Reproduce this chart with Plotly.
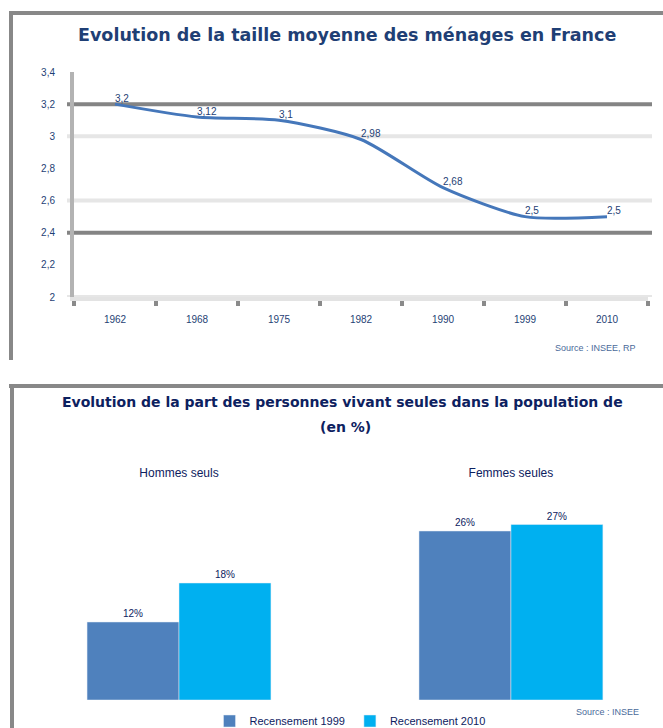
import plotly.graph_objects as go

W, H = 663, 728

# ---------------- data ----------------
years = ["1962", "1968", "1975", "1982", "1990", "1999", "2010"]
taille_moyenne = [3.2, 3.12, 3.1, 2.98, 2.68, 2.5, 2.5]

y_ticks = [2.0, 2.2, 2.4, 2.6, 2.8, 3.0, 3.2, 3.4]
grid_dark = [3.2, 2.4]
grid_light = [3.0, 2.6, 2.0]

groupes = ["Hommes seuls", "Femmes seules"]
serie_names = ["Recensement 1999", "Recensement 2010"]
part_1999 = [12, 26]
part_2010 = [18, 27]

title_top = "Evolution de la taille moyenne des ménages en France"
title_bot_1 = "Evolution de la part des personnes vivant seules dans la population de"
title_bot_2 = "(en %)"
source_top = "Source : INSEE, RP"
source_bot = "Source : INSEE"


def px(x):
    return x / W


def py(y):
    return 1 - y / H


def fr(v):
    return ("%g" % v).replace(".", ",")


NAVY = "#1F3F75"
DNAVY = "#0D2160"
FONT = "Liberation Sans, Arial, sans-serif"
TFONT = "DejaVu Sans, sans-serif"

fig = go.Figure()

# line chart
fig.add_trace(go.Scatter(
    x=years, y=taille_moyenne, mode="lines+text",
    line=dict(color="#4577BA", width=3, shape="spline", smoothing=0.7),
    text=[fr(v) for v in taille_moyenne], textposition="top right",
    textfont=dict(size=10, color=NAVY, family=FONT),
    showlegend=False, cliponaxis=False, xaxis="x", yaxis="y",
))

# bar chart
fig.add_trace(go.Bar(
    x=groupes, y=part_1999, name=serie_names[0], marker_color="#4F81BD",
    text=[f"{v}%" for v in part_1999], textposition="outside",
    textfont=dict(size=10, color=DNAVY, family=FONT), cliponaxis=False,
    xaxis="x2", yaxis="y2",
))
fig.add_trace(go.Bar(
    x=groupes, y=part_2010, name=serie_names[1], marker_color="#00B0F0",
    text=[f"{v}%" for v in part_2010], textposition="outside",
    textfont=dict(size=10, color=DNAVY, family=FONT), cliponaxis=False,
    xaxis="x2", yaxis="y2",
))

shapes = []
for v in grid_light:
    shapes.append(dict(type="line", xref="paper", yref="y", x0=px(67), x1=px(652),
                       y0=v, y1=v, line=dict(color="#E6E6E6", width=4), layer="below"))
for v in grid_dark:
    shapes.append(dict(type="line", xref="paper", yref="y", x0=px(67), x1=px(652),
                       y0=v, y1=v, line=dict(color="#848484", width=4), layer="below"))
# frames
frame = dict(color="#888888", width=4)
shapes += [
    dict(type="line", xref="paper", yref="paper", x0=px(9), x1=1, y0=py(13), y1=py(13), line=frame),
    dict(type="line", xref="paper", yref="paper", x0=px(11), x1=px(11), y0=py(11), y1=py(360), line=frame),
    dict(type="line", xref="paper", yref="paper", x0=px(9), x1=1, y0=py(386), y1=py(386), line=frame),
    dict(type="line", xref="paper", yref="paper", x0=px(12), x1=px(12), y0=py(384), y1=0, line=frame),
]


def ann(text, x, y, size, color, family, xanchor="center"):
    return dict(text=text, x=px(x), y=py(y), xref="paper", yref="paper",
                xanchor=xanchor, yanchor="middle", showarrow=False,
                font=dict(size=size, color=color, family=family))


annotations = [
    ann("<b>%s</b>" % title_top, 347, 35, 17.5, NAVY, TFONT),
    ann("<b>%s</b>" % title_bot_1, 342, 402, 14, DNAVY, TFONT),
    ann("<b>%s</b>" % title_bot_2, 345, 427, 14, DNAVY, TFONT),
    ann(source_top, 638, 348, 9, "#4A6A9A", FONT, "right"),
    ann(source_bot, 641, 712, 9, "#4A6A9A", FONT, "right"),
]

fig.update_layout(
    width=W, height=H, margin=dict(l=0, r=0, t=0, b=0, autoexpand=False),
    paper_bgcolor="white", plot_bgcolor="white",
    separators=", ",
    font=dict(family=FONT, color=NAVY),
    barmode="group", bargap=0.446, bargroupgap=0,
    shapes=shapes, annotations=annotations,
    xaxis=dict(domain=[px(74), px(648)], anchor="y", type="category",
               range=[-0.5, len(years) - 0.5], autorange=False,
               showgrid=False, showline=True, linecolor="#E3E3E3", linewidth=4,
               ticks="outside", tickson="boundaries", ticklen=5, tickwidth=4,
               tickcolor="#8A8A8A", tickfont=dict(size=10, color=NAVY),
               ticklabelstandoff=10),
    yaxis=dict(domain=[py(297), py(72)], anchor="x", range=[2, 3.4],
               tickvals=y_ticks, ticktext=[fr(v) for v in y_ticks],
               showgrid=False, zeroline=False, showline=True, linecolor="#B3B3B3",
               linewidth=4, ticks="", tickfont=dict(size=10, color=NAVY),
               ticklabelstandoff=13),
    xaxis2=dict(domain=[px(20), px(655)], anchor="y2", side="top",
                range=[-0.479, 1.434], autorange=False, showgrid=False,
                showline=False, ticks="",
                tickfont=dict(size=12, color=DNAVY), ticklabelstandoff=8),
    yaxis2=dict(domain=[py(700), py(488)], anchor="x2", range=[0, 212 / 6.5],
                visible=False),
    legend=dict(orientation="h", x=px(350), xanchor="center", y=py(721),
                yanchor="middle", font=dict(size=11, color=DNAVY),
                bgcolor="rgba(0,0,0,0)"),
)

fig.write_html("out.html")
